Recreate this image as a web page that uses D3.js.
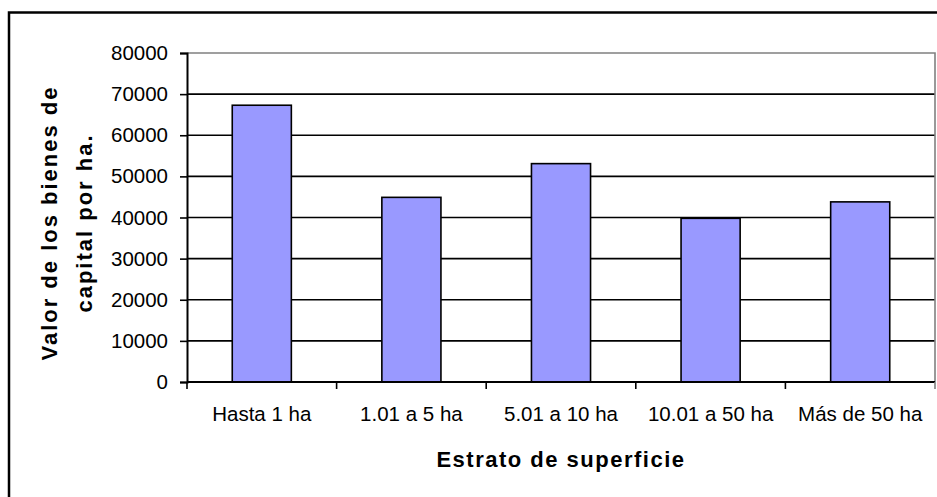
<!DOCTYPE html>
<html>
<head>
<meta charset="utf-8">
<script src="https://cdn.jsdelivr.net/npm/d3@7"></script>
<style>
  body { margin: 0; background: #fff; }
  svg { display: block; font-family: "Liberation Sans", Arial, sans-serif; }
</style>
</head>
<body>
<div id="chart-area"></div>
<script>
/* data */
const categories = ["Hasta 1 ha", "1.01 a 5 ha", "5.01 a 10 ha", "10.01 a 50 ha", "Más de 50 ha"]
const values = [67300, 44900, 53100, 39800, 43800]
const yTicks = [0, 10000, 20000, 30000, 40000, 50000, 60000, 70000, 80000]

const W = 937, H = 497
const MARGIN = { LEFT: 187, RIGHT: 2, TOP: 53, BOTTOM: 115 }
const WIDTH = W - MARGIN.LEFT - MARGIN.RIGHT
const HEIGHT = H - MARGIN.TOP - MARGIN.BOTTOM

const svg = d3.select("#chart-area").append("svg")
  .attr("width", W)
  .attr("height", H)

// outer chart frame (cut off on right/bottom like the original)
svg.append("rect")
  .attr("x", 9).attr("y", 12.5)
  .attr("width", W + 20).attr("height", H + 20)
  .attr("fill", "#fff")
  .attr("stroke", "#000")
  .attr("stroke-width", 2.5)

const g = svg.append("g")
  .attr("transform", `translate(${MARGIN.LEFT}, ${MARGIN.TOP})`)

// scales
const x = d3.scaleBand()
  .domain(categories)
  .range([0, WIDTH])
  .paddingInner(0.605)
  .paddingOuter(0.3025)

const y = d3.scaleLinear()
  .domain([0, 80000])
  .range([HEIGHT, 0])

// gridlines
g.selectAll(".grid")
  .data(yTicks.filter(d => d > 0 && d < 80000))
  .enter().append("line")
  .attr("class", "grid")
  .attr("x1", 0).attr("x2", WIDTH)
  .attr("y1", d => y(d)).attr("y2", d => y(d))
  .attr("stroke", "#000")
  .attr("stroke-width", 1.6)

// plot area border (grey, top & right)
g.append("path")
  .attr("d", `M0,${y(80000)}H${WIDTH}V${HEIGHT}`)
  .attr("fill", "none")
  .attr("stroke", "#808080")
  .attr("stroke-width", 1.6)

// bars
g.selectAll(".bar")
  .data(values)
  .enter().append("rect")
  .attr("class", "bar")
  .attr("x", (d, i) => x(categories[i]))
  .attr("width", x.bandwidth())
  .attr("y", d => y(d))
  .attr("height", d => HEIGHT - y(d))
  .attr("fill", "#9999ff")
  .attr("stroke", "#000")
  .attr("stroke-width", 1.6)

// y axis
const yAxis = g.append("g")
  .call(d3.axisLeft(y).tickValues(yTicks).tickFormat(d3.format("d")).tickSize(7).tickPadding(12))
yAxis.select(".domain").attr("stroke-width", 2)
yAxis.selectAll(".tick line").attr("stroke-width", 1.6)
yAxis.selectAll("text")
  .style("font-size", "20.5px")
  .attr("fill", "#000")

// x axis line + ticks at category boundaries
const xAxis = g.append("g")
  .attr("transform", `translate(0, ${HEIGHT})`)
xAxis.append("line")
  .attr("x1", 0).attr("x2", WIDTH)
  .attr("stroke", "#000")
  .attr("stroke-width", 2)
xAxis.selectAll(".xtick")
  .data(d3.range(categories.length + 1))
  .enter().append("line")
  .attr("class", "xtick")
  .attr("x1", i => i * x.step()).attr("x2", i => i * x.step())
  .attr("y1", 0).attr("y2", 7)
  .attr("stroke", i => i === categories.length ? "#808080" : "#000")
  .attr("stroke-width", 1.6)
xAxis.selectAll(".xlabel")
  .data(categories)
  .enter().append("text")
  .attr("class", "xlabel")
  .attr("x", d => x(d) + x.bandwidth() / 2)
  .attr("y", 39)
  .attr("text-anchor", "middle")
  .style("font-size", "20.5px")
  .attr("fill", "#000")
  .text(d => d)

// axis titles
svg.append("text")
  .attr("x", MARGIN.LEFT + WIDTH / 2)
  .attr("y", 467)
  .attr("text-anchor", "middle")
  .style("font-size", "22px")
  .style("font-weight", "bold")
  .style("letter-spacing", "1.5px")
  .text("Estrato de superficie")

const yTitle = svg.append("text")
  .attr("transform", "translate(0, 223) rotate(-90)")
  .attr("text-anchor", "middle")
  .style("font-size", "22px")
  .style("font-weight", "bold")
  .style("letter-spacing", "2px")
yTitle.append("tspan").attr("x", 0).attr("y", 57).text("Valor de los bienes de")
yTitle.append("tspan").attr("x", 0).attr("y", 92).text("capital por ha.")
</script>
</body>
</html>
